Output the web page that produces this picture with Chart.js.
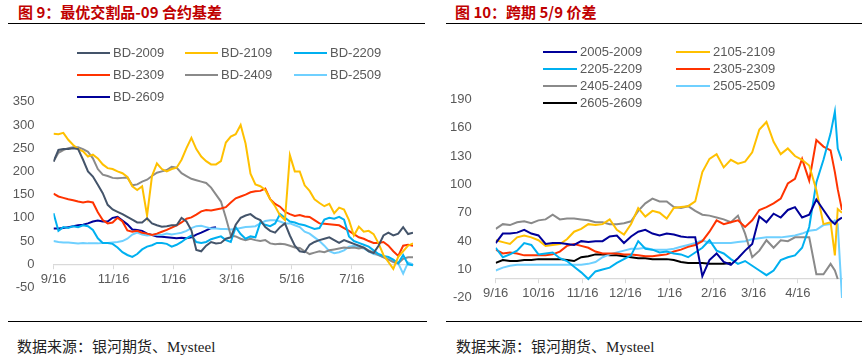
<!DOCTYPE html>
<html>
<head>
<meta charset="utf-8">
<script src="https://cdn.jsdelivr.net/npm/chart.js@4.4.1/dist/chart.umd.min.js"></script>
<style>
  html, body { margin: 0; padding: 0; background: #fff; }
  body { width: 867px; height: 363px; position: relative; overflow: hidden; font-family: "Liberation Sans", Arial, sans-serif; }
  .title { position: absolute; top: 2px; font: bold 15px "Noto Sans CJK SC", sans-serif; color: #C00000; line-height: 20px; white-space: nowrap; }
  .rule { position: absolute; height: 1.6px; background: #000; }
  .src { position: absolute; top: 337px; font: 15px "Liberation Serif", "Noto Sans CJK SC", serif; color: #222; white-space: nowrap; line-height: 20px; }
  canvas { position: absolute; top: 0; }
  .leg { position: absolute; font: 13px "Liberation Sans", Arial, sans-serif; color: #595959; white-space: nowrap; line-height: 16px; }
  .sw { position: absolute; height: 2px; }
</style>
</head>
<body>
<div class="title" style="left:18px">图 9：最优交割品-09 合约基差</div>
<div class="title" style="left:455px">图 10：跨期 5/9 价差</div>
<div class="rule" style="left:8px;width:417px;top:22.5px"></div>
<div class="rule" style="left:446px;width:416px;top:22.5px"></div>
<div class="rule" style="left:8px;width:419px;top:320.8px"></div>
<div class="rule" style="left:446px;width:416px;top:320.8px"></div>
<div class="src" style="left:17px">数据来源：银河期货、Mysteel</div>
<div class="src" style="left:456px">数据来源：银河期货、Mysteel</div>
<canvas id="cL" width="430" height="310" style="left:0"></canvas>
<canvas id="cR" width="437" height="325" style="left:430px"></canvas>
<div id="legL"></div>
<div id="legR"></div>
<script>
// ---------------- Left chart data (days since 9/16) ----------------
const daysL = [0,5,10,15,20,25,30,35,40,45,50,55,60,65,70,75,80,85,90,95,100,105,110,115,120,125,130,135,140,145,150,155,160,165,170,175,180,185,190,195,200,205,210,215,220,225,230,235,240,245,250,255,260,265,270,275,280,285,290,295,300,305,310,315,320,325,330,335,340,345,350,355,360,365];
const tickDaysL = [0,61,122,181,242,303];
const tickLabelsL = ['9/16','11/16','1/16','3/16','5/16','7/16'];

const bd2009 = [221,246,248,248,250,248,225,200,189,171,153,128,118,113,108,102,96,90,90,99,88,84,81,82,84,84,100,92,73,31,28,40,48,45,46,55,58,85,100,105,108,100,95,80,72,68,80,88,62,40,28,26,42,48,52,55,58,52,46,52,48,44,40,36,28,24,40,62,68,62,66,80,65,68];
const bd2109 = [281,280,283,268,257,248,243,232,236,228,215,207,205,200,196,188,168,160,168,105,190,217,205,200,205,208,225,250,272,248,232,222,215,215,222,262,275,280,300,260,195,172,168,160,140,125,105,95,235,200,200,170,158,140,132,125,130,110,122,118,95,62,81,70,72,65,45,20,5,-10,16,28,40,45];
const bd2209 = [110,72,80,78,82,80,84,82,74,56,46,46,44,36,26,20,16,22,32,38,41,46,46,44,38,42,48,56,62,48,46,48,54,57,60,52,48,80,65,55,60,58,90,85,82,88,108,100,92,90,86,84,80,76,78,96,100,98,102,96,60,50,46,42,38,30,22,18,16,10,2,20,0,-2];
const bd2309 = [152,146,143,140,138,135,133,135,133,112,95,88,90,100,92,73,70,72,68,66,63,66,70,74,79,84,90,98,101,107,114,117,116,118,120,123,133,142,146,150,155,157,158,163,140,130,124,113,108,104,106,103,102,95,88,87,86,85,84,78,72,65,58,55,50,46,46,48,40,28,18,40,42,40];
const bd2409 = [221,240,246,250,252,252,248,242,228,205,193,190,186,185,186,187,170,172,178,182,190,197,200,203,210,208,196,190,184,181,178,175,165,150,135,100,62,60,55,52,55,52,50,52,45,43,44,43,40,36,35,28,22,25,28,26,30,32,34,36,35,36,34,36,30,25,20,15,10,5,2,12,15,15];
const bd2509 = [50,48,47,47,46,45,46,45,45,45,46,46,47,48,50,55,64,68,64,62,63,64,63,66,64,66,68,72,78,82,83,80,77,77,76,76,75,76,78,80,81,82,88,93,95,95,92,88,88,84,80,70,66,58,50,40,28,24,26,30,38,40,36,34,28,22,20,16,12,8,2,-20,4,0];
const bd2609 = [77,77,78,80,82,84,85,88,92,94,92,92,100,102,94,86,75,74,72,66,63,60,59,58,57,56,57,56,58,64,68,73,78,80,null,null,null,null,null,null,null,null,null,null,null,null,null,null,null,null,null,null,null,null,null,null,null,null,null,null,null,null,null,null,null,null,null,null,null,null,null,null,null,null];

// ---------------- Right chart data (days since 9/16) ----------------
const daysR = [0,5,10,15,20,25,30,35,40,45,50,55,60,65,70,75,80,85,90,95,100,105,110,115,120,125,130,135,140,145,150,155,160,165,170,175,180,185,190,195,200,205,210,215,220,225,230,235,238,240,243];
const tickDaysR = [0,30,61,91,122,153,181,212];
const tickLabelsR = ['9/16','10/16','11/16','12/16','1/16','2/16','3/16','4/16'];

const s2005 = [38,48,48,49,52,48,46,37,38,38,37,36,40,39,40,40,45,46,38,45,50,52,48,46,48,47,45,44,44,3,20,27,18,15,22,30,37,66,60,69,65,73,76,65,68,84,73,62,58,62,65];
const s2105 = [41,39,37,44,46,44,41,35,36,37,42,50,53,58,57,58,63,52,47,58,75,66,72,70,64,75,76,77,82,113,127,132,118,126,122,124,134,158,166,145,132,138,130,126,120,94,58,60,25,74,70];
const s2205 = [33,23,26,30,38,36,26,27,28,22,19,13,7,0,8,10,12,17,21,25,40,32,31,28,29,27,26,23,28,33,41,30,27,21,16,19,14,9,4,9,20,23,25,33,55,102,126,154,177,138,125];
const s2305 = [31,27,28,27,25,25,25,25,26,29,35,37,35,33,29,27,27,27,26,26,25,24,24,25,26,29,31,34,36,40,50,62,58,60,62,55,62,73,76,80,85,101,106,127,104,147,140,136,113,95,73];
const s2405 = [53,58,57,60,61,59,62,63,68,63,64,64,63,62,60,60,58,58,59,61,72,80,85,82,82,76,75,77,72,68,67,65,63,60,67,48,23,30,41,33,41,40,44,44,44,5,5,16,9,0,null];
const s2505 = [9,12,14,15,15,15,15,15,15,15,15,15,15,16,18,23,26,28,30,32,32,33,31,31,31,32,34,36,38,41,38,38,38,38,39,40,42,43,44,44,44,45,46,48,51,52,57,58,62,58,-20];
const s2605 = [17,20,19,19,20,20,21,21,21,21,20,19,23,24,26,26,25,25,24,23,22,22,21,21,21,20,18,17,17,17,16,16,16,17,null,null,null,null,null,null,null,null,null,null,null,null,null,null,null,null,null];

const labelsL = ['BD-2009','BD-2109','BD-2209','BD-2309','BD-2409','BD-2509','BD-2609'];
const labelsR = ['2005-2009','2105-2109','2205-2209','2305-2309','2405-2409','2505-2509','2605-2609'];

// ---------------- styles ----------------
const colorsL = ['#44546A','#FFC000','#00B0F0','#FF3300','#8A8A8A','#6FD0FF','#000099'];
const colorsR = ['#000099','#FFC000','#00B0F0','#FF3300','#8A8A8A','#6FD0FF','#000000'];

Chart.defaults.font.family = '"Liberation Sans", Arial, sans-serif';
Chart.defaults.font.size = 13;
Chart.defaults.color = '#595959';

function makeChart(canvas, days, seriesVals, labels, colors, o) {
  return new Chart(canvas, {
    type: 'line',
    data: {
      datasets: seriesVals.map((vals, i) => ({
        label: labels[i],
        data: days.map((d, j) => ({ x: d, y: vals[j] })),
        borderColor: colors[i],
        backgroundColor: colors[i],
        borderWidth: 2,
        pointRadius: 0,
        tension: 0,
        fill: false,
        spanGaps: false
      }))
    },
    options: {
      responsive: false,
      animation: false,
      devicePixelRatio: 1,
      layout: { padding: { left: 0, right: o.padRight, top: o.padTop, bottom: o.padBottom } },
      plugins: { legend: { display: false }, tooltip: { enabled: false } },
      scales: {
        x: {
          type: 'linear',
          min: 0,
          max: o.xMax,
          position: { y: 0 },
          afterFit: (s) => { s.height = 0; },
          afterBuildTicks: (s) => { s.ticks = o.tickDays.map(v => ({ value: v })); },
          ticks: {
            autoSkip: false, maxRotation: 0, minRotation: 0, padding: 3,
            color: '#595959', font: { size: 13 },
            callback: (v) => { const k = o.tickDays.indexOf(v); return k >= 0 ? o.tickLabels[k] : ''; }
          },
          grid: { display: true, drawOnChartArea: false, drawTicks: true, tickLength: 4, color: '#D9D9D9' },
          border: { display: true, color: '#D9D9D9', width: 1.2 }
        },
        y: {
          min: o.yMin, max: o.yMax,
          afterFit: (s) => { s.width = o.yWidth; },
          ticks: { stepSize: o.yStep, padding: o.yPad, color: '#595959', font: { size: 13 } },
          grid: { display: false },
          border: { display: false }
        }
      }
    }
  });
}

// canvas L height 310: chart area 101.7 .. 287.5 ; canvas R height 325: chart area 99.3 .. 297.9
const chartL = makeChart(document.getElementById('cL'), daysL,
  [bd2009, bd2109, bd2209, bd2309, bd2409, bd2509, bd2609], labelsL, colorsL,
  { xMax: 365, tickDays: tickDaysL, tickLabels: tickLabelsL, yMin: -50, yMax: 350, yStep: 50,
    yWidth: 53.5, yPad: 11, padRight: 17, padTop: 101.7, padBottom: 22.5 });

const chartR = makeChart(document.getElementById('cR'), daysR,
  [s2005, s2105, s2205, s2305, s2405, s2505, s2605], labelsR, colorsR,
  { xMax: 243, tickDays: tickDaysR, tickLabels: tickLabelsR, yMin: -20, yMax: 190, yStep: 30,
    yWidth: 65.7, yPad: 16, padRight: 25, padTop: 99.3, padBottom: 27.1 });

// ---------------- HTML legends built from the chart datasets ----------------
function buildLegend(host, chart, cols, rows, lineW, textOff) {
  chart.data.datasets.forEach((ds, i) => {
    const c = i % cols.length, r = Math.floor(i / cols.length);
    const sw = document.createElement('div');
    sw.className = 'sw';
    sw.style.left = cols[c] + 'px';
    sw.style.top = (rows[r] - 1) + 'px';
    sw.style.width = lineW + 'px';
    sw.style.background = ds.borderColor;
    host.appendChild(sw);
    const t = document.createElement('div');
    t.className = 'leg';
    t.style.left = (cols[c] + textOff) + 'px';
    t.style.top = (rows[r] - 8) + 'px';
    t.textContent = ds.label;
    host.appendChild(t);
  });
}
buildLegend(document.getElementById('legL'), chartL, [77, 185, 294], [53.3, 75, 96.7], 33, 36);
buildLegend(document.getElementById('legR'), chartR, [543, 676], [51.7, 69.3, 86.3, 103.3], 34, 37);
</script>
</body>
</html>
